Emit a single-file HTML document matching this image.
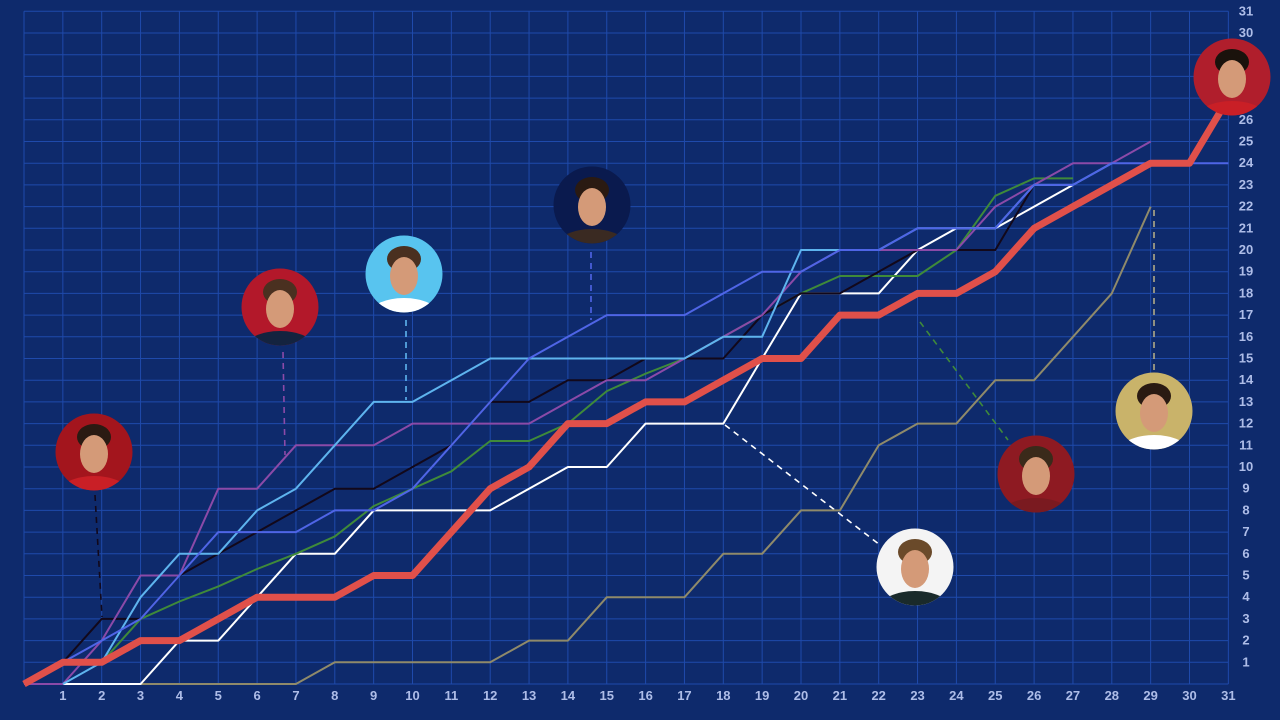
<!DOCTYPE html>
<html><head><meta charset="utf-8">
<style>
html,body{margin:0;padding:0;background:#0e2a6c;}
svg{display:block;}
text{font-family:"Liberation Sans",sans-serif;font-weight:bold;fill:#aebde8;font-size:13px;}
</style></head>
<body>
<svg id="chart" width="1280" height="720" viewBox="0 0 1280 720" xmlns="http://www.w3.org/2000/svg">
<rect width="1280" height="720" fill="#0e2a6c"/>
<g id="grid"></g>
<g id="xticks"></g>
<g id="yticks"></g>
<g id="connectors"></g>
<g id="series"></g>
<g id="photos"></g>
</svg>
<script>
const matchdays = Array.from({length:32},(_,i)=>i);
const yTicks = Array.from({length:31},(_,i)=>i+1);
const lewandowski = [0,1,3,3,5,6,7,8,9,9,10,11,13,13,14,14,15,15,15,17,18,18,19,20,20,20,23];
const immobile = [null,0,1,4,6,6,8,9,11,13,13,14,15,15,15,15,15,15,16,16,20,20,20,21,21,21,23,23,24];
const cavani = [0,1,2,3,5,7,7,7,8,8,9,11,13,15,16,17,17,17,18,19,19,20,20,21,21,21,23,23,24,24,24,24];
const messi = [0,0,2,5,5,9,9,11,11,11,12,12,12,12,13,14,14,15,16,17,19,20,20,20,20,22,23,24,24,25];
const rodrigo = [0,1,1,3,3.8,4.5,5.3,6,6.8,8.2,9,9.8,11.2,11.2,12,13.5,14.3,15,16,17,18,18.8,18.8,18.8,20,22.5,23.3,23.3];
const kane = [null,0,0,0,2,2,4,6,6,8,8,8,8,9,10,10,12,12,12,15,18,18,18,20,21,21,22,23];
const ronaldo = [null,0,0,0,0,0,0,0,1,1,1,1,1,2,2,4,4,4,6,6,8,8,11,12,12,14,14,16,18,22];
const salah = [0,1,1,2,2,3,4,4,4,5,5,7,9,10,12,12,13,13,14,15,15,17,17,18,18,19,21,22,23,24,24,27];

const X0=24, XS=38.85, Y0=684, YS=21.7;
const xs = v => X0 + v*XS;
const ys = v => Y0 - v*YS;
const NS='http://www.w3.org/2000/svg';
function mk(tag, attrs, parent){const e=document.createElementNS(NS,tag);for(const k in attrs)e.setAttribute(k,attrs[k]);parent.appendChild(e);return e;}

const grid=document.getElementById('grid');
matchdays.forEach(d=>{
  const l=mk('line',{x1:xs(d),x2:xs(d),y1:ys(31),y2:Y0,stroke:'#1f4aab','stroke-width':1},grid);
  
  
});
[0].concat(yTicks).forEach(v=>{
  const l=mk('line',{x1:X0,x2:xs(31),y1:ys(v),y2:ys(v),stroke:'#1f4aab','stroke-width':1},grid);
  
  
});
const xt=document.getElementById('xticks');
matchdays.slice(1).forEach(d=>{
  const t=mk('text',{x:xs(d),y:700,'text-anchor':'middle'},xt);t.textContent=d;
  
  
});
const yt=document.getElementById('yticks');
yTicks.forEach(v=>{
  const t=mk('text',{x:1246,y:ys(v)+4,'text-anchor':'middle'},yt);t.textContent=v;
  
  
});

const seriesDefs=[
  ['ronaldo-line',ronaldo,'#8f8a6a',2],
  ['kane-line',kane,'#ffffff',2],
  ['rodrigo-line',rodrigo,'#3f8a3a',2],
  ['lewandowski-line',lewandowski,'#12081a',2],
  ['messi-line',messi,'#8b4aa8',2],
  ['immobile-line',immobile,'#5eb4ee',2],
  ['cavani-line',cavani,'#4f65e6',2],
  ['salah-line',salah,'#e0504a',7]
];
const sg=document.getElementById('series');
seriesDefs.forEach(([name,data,col,w])=>{
  const pts=[];data.forEach((v,i)=>{if(v!==null)pts.push(xs(i).toFixed(1)+','+ys(v).toFixed(1));});
  const p=mk('polyline',{points:pts.join(' '),fill:'none',stroke:col,'stroke-width':w,'stroke-linejoin':'round'},sg);
  
  
});

const conns=[
  ['lewandowski-connector',95,495,102,617,'#12081a'],
  ['messi-connector',283,352,285,455,'#8b4aa8'],
  ['immobile-connector',406,320,406,400,'#5eb4ee'],
  ['cavani-connector',591,252,591,320,'#4f65e6'],
  ['kane-connector',725,425,880,545,'#ffffff'],
  ['rodrigo-connector',920,322,1008,440,'#3f8a3a'],
  ['ronaldo-connector',1154,210,1154,370,'#b0aa88']
];
const cg=document.getElementById('connectors');
conns.forEach(([n,x1,y1,x2,y2,c])=>{
  const l=mk('line',{x1,y1,x2,y2,stroke:c,'stroke-width':1.6,'stroke-dasharray':'6,5'},cg);
  
  
});

const photos=[
  ['lewandowski-photo',94,452,'#a3151d','#c91f26','#2a1a12'],
  ['messi-photo',280,307,'#b3182a','#14233f','#4a3020'],
  ['immobile-photo',404,274,'#58c4ef','#ffffff','#4a3020'],
  ['cavani-photo',592,205,'#0a1a4e','#3a2a22','#2a1a12'],
  ['kane-photo',915,567,'#f4f4f4','#1a2a2a','#6a4a2a'],
  ['rodrigo-photo',1036,474,'#8e1a22','#7a1a20','#3a2a1a'],
  ['ronaldo-photo',1154,411,'#c9b36a','#ffffff','#2a1a12'],
  ['salah-photo',1232,77,'#b01e2c','#c91f26','#1a120c']
];
const pg=document.getElementById('photos');
photos.forEach(([n,cx,cy,bg,shirt,hair])=>{
  const g=mk('g',{},pg);
  
  
  mk('circle',{cx,cy,r:38.5,fill:bg},g);
  const clip='clip-'+n;
  const cp=mk('clipPath',{id:clip},g);mk('circle',{cx,cy,r:38.5},cp);
  const inner=mk('g',{'clip-path':'url(#'+clip+')'},g);
  mk('ellipse',{cx,cy:cy+40,rx:34,ry:16,fill:shirt},inner);
  mk('ellipse',{cx,cy:cy-15,rx:17,ry:13,fill:hair},inner);
  mk('ellipse',{cx,cy:cy+2,rx:14,ry:19,fill:'#d49a78'},inner);
});
</script>
</body></html>
